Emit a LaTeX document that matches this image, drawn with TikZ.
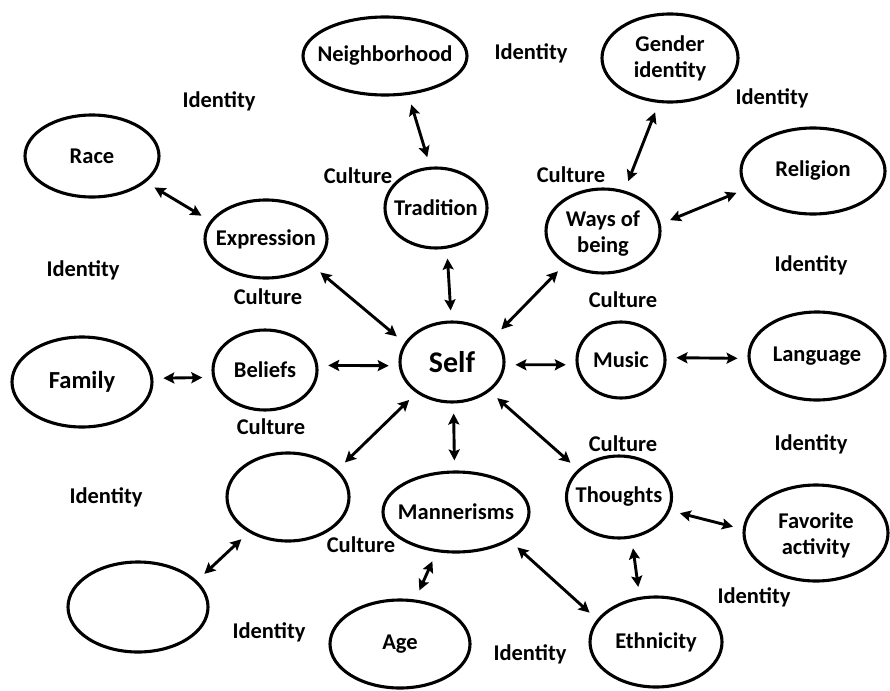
\documentclass[tikz,border=0pt]{standalone}
\usepackage{fontspec}
\setmainfont{Carlito}
\usetikzlibrary{shapes.geometric}
\usetikzlibrary{arrows.meta}

\tikzset{
  bubble/.style={draw, ellipse, line width=3.1pt, inner sep=0pt},
  word/.style={font=\fontsize{22.5}{26}\selectfont\bfseries, align=center},
  link/.style={{Stealth[length=11pt,width=11pt,inset=2pt]}-{Stealth[length=11pt,width=11pt,inset=2pt]},
    line width=2.9pt, shorten <=10pt, shorten >=10pt}
}

\begin{document}
\begin{tikzpicture}[x=1pt,y=-1pt]
 \useasboundingbox (0,0) rectangle (890,690);
 % center
 \node[bubble, minimum width=104pt, minimum height=80pt, label={[word,font=\fontsize{30}{34}\selectfont\bfseries]center:Self}] (self) at (452,362) {};
 % inner ring
 \node[bubble, minimum width=102pt, minimum height=80pt, label={[word]center:Tradition}] (trad) at (436,208) {};
 \node[bubble, minimum width=114pt, minimum height=84pt, label={[word,yshift=-3pt]center:Ways of\\being}] (ways) at (603,231) {};
 \node[bubble, minimum width=122pt, minimum height=78pt, label={[word]center:Expression}] (expr) at (266,239) {};
 \node[bubble, minimum width=104pt, minimum height=80pt, label={[word]center:Beliefs}] (beliefs) at (265,370) {};
 \node[bubble, minimum width=88pt, minimum height=76pt, label={[word]center:Music}] (music) at (621,360) {};
 \node[bubble, minimum width=105pt, minimum height=82pt, label={[word]center:Thoughts}] (thoughts) at (619,497) {};
 \node[bubble, minimum width=146pt, minimum height=80pt, label={[word]center:Mannerisms}] (mann) at (456,512) {};
 \node[bubble, minimum width=122pt, minimum height=88pt] (blanka) at (288,497) {};
 % outer ring
 \node[bubble, minimum width=164pt, minimum height=78pt, label={[word]center:Neighborhood}] (hood) at (385,56) {};
 \node[bubble, minimum width=136pt, minimum height=88pt, label={[word]center:Gender\\identity}] (gender) at (670,58) {};
 \node[bubble, minimum width=134pt, minimum height=82pt, label={[word]center:Race}] (race) at (92,156) {};
 \node[bubble, minimum width=144pt, minimum height=86pt, label={[word]center:Religion}] (religion) at (813,171) {};
 \node[bubble, minimum width=140pt, minimum height=90pt, label={[word,font=\fontsize{24.5}{28}\selectfont\bfseries]center:Family}] (family) at (82,382) {};
 \node[bubble, minimum width=136pt, minimum height=88pt, label={[word]center:Language}] (language) at (817,356) {};
 \node[bubble, minimum width=144pt, minimum height=96pt, label={[word,yshift=-2pt]center:Favorite\\activity}] (fav) at (816,533) {};
 \node[bubble, minimum width=140pt, minimum height=90pt] (blankb) at (138,607) {};
 \node[bubble, minimum width=140pt, minimum height=88pt, label={[word]center:Age}] (age) at (400,644) {};
 \node[bubble, minimum width=132pt, minimum height=90pt, label={[word]center:Ethnicity}] (ethnic) at (656,642) {};
 % loose words
 \node[word] (id1) at (219,101) {Identity};
 \node[word] (id2) at (531,53) {Identity};
 \node[word] (id3) at (772,98) {Identity};
 \node[word] (id4) at (83,270) {Identity};
 \node[word] (id5) at (811,265) {Identity};
 \node[word] (id6) at (106,497) {Identity};
 \node[word] (id7) at (811,444) {Identity};
 \node[word] (id8) at (754,597) {Identity};
 \node[word] (id9) at (269,632) {Identity};
 \node[word] (id10) at (530,654) {Identity};
 \node[word] (cu1) at (358,176) {Culture};
 \node[word] (cu2) at (571,175) {Culture};
 \node[word] (cu3) at (268,297) {Culture};
 \node[word] (cu4) at (623,300) {Culture};
 \node[word] (cu5) at (271,427) {Culture};
 \node[word] (cu6) at (623,444) {Culture};
 \node[word] (cu7) at (361,545) {Culture};
 % arrows
 \draw[link] (hood.-59) -- (trad.98);
 \draw[link] (gender.-104) -- (ways.62);
 \draw[link] (race.-26) -- (expr.162);
 \draw[link] (religion.195) -- (ways.7);
 \draw[link] (expr.-30) -- (self.158);
 \draw[link] (trad.-75) -- (self.91);
 \draw[link] (ways.221) -- (self.31);
 \draw[link] (family.3) -- (beliefs.188);
 \draw[link] (beliefs.5) -- (self.184);
 \draw[link] (self.-3) -- (music.186);
 \draw[link] (music.3) -- (language.182);
 \draw[link] (self.221) -- (blanka.29);
 \draw[link] (self.-88) -- (mann.92);
 \draw[link] (self.-38) -- (thoughts.146);
 \draw[link] (thoughts.-15) -- (fav.177);
 \draw[link] (thoughts.-73) -- (ethnic.110);
 \draw[link] (mann.-116) -- (age.71);
 \draw[link] (mann.-28) -- (ethnic.159);
 \draw[link] (blanka.222) -- (blankb.24);
\end{tikzpicture}
\end{document}
